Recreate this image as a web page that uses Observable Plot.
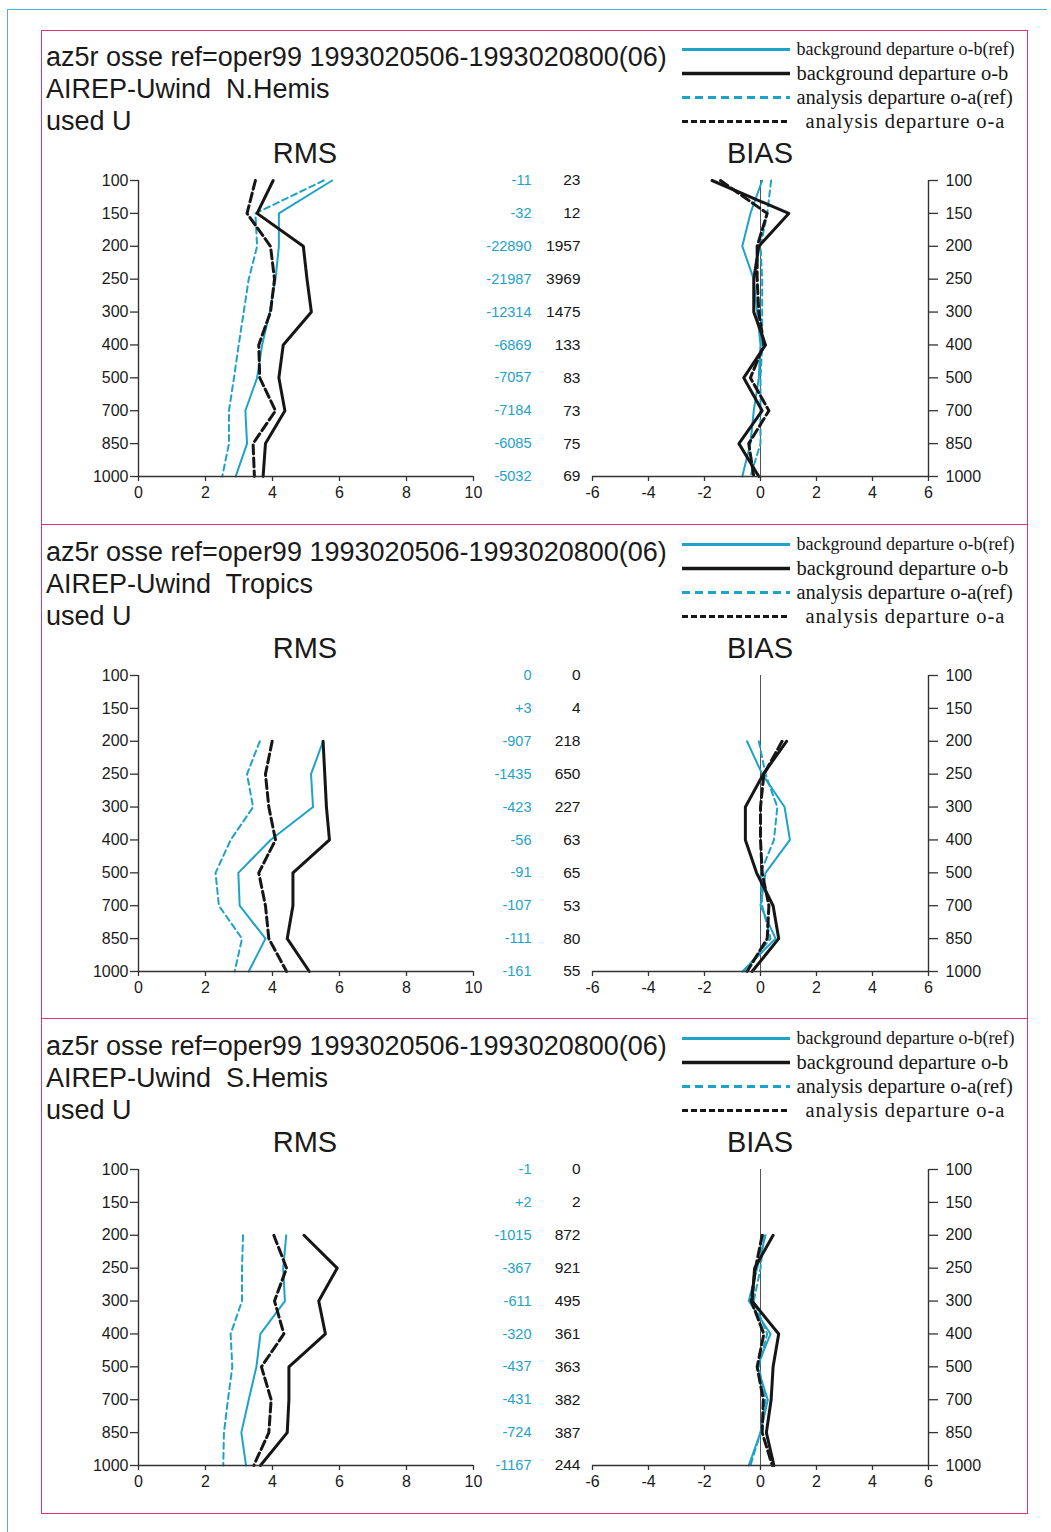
<!DOCTYPE html>
<html><head><meta charset="utf-8">
<script src="https://cdn.jsdelivr.net/npm/d3@7"></script>
<script src="https://cdn.jsdelivr.net/npm/@observablehq/plot@0.6"></script>
<style>
body{margin:0;background:#fff;}
#page{position:relative;width:1051px;height:1532px;overflow:hidden;font-family:"Liberation Sans",Arial,sans-serif;background:#fff;}
.line{position:absolute;}
.title{position:absolute;left:46px;font-size:27px;line-height:32px;color:#1a1a1a;white-space:pre;}
.head{position:absolute;font-size:29px;line-height:34px;color:#1a1a1a;transform:translateX(-50%);}
svg.plt{position:absolute;overflow:visible;}
</style></head><body><div id="page"></div>
<script>
// ---- data ----
const levels = [100, 150, 200, 250, 300, 400, 500, 700, 850, 1000];
const seriesNames = ["background departure o-b(ref)", "background departure o-b", "analysis departure o-a(ref)", "analysis departure o-a"];
const titleLine1 = "az5r osse ref=oper99 1993020506-1993020800(06)";
const regionTitles = ["AIREP-Uwind  N.Hemis", "AIREP-Uwind  Tropics", "AIREP-Uwind  S.Hemis"];
const titleLine3 = "used U";
const rmsTicks = [0, 2, 4, 6, 8, 10];
const biasTicks = [-6, -4, -2, 0, 2, 4, 6];

// N.Hemis
const nhRmsObRef = [5.78, 4.19, 4.19, 4.09, 3.92, 3.69, 3.54, 3.19, 3.24, 2.90];
const nhRmsOb    = [4.02, 3.54, 4.92, 5.03, 5.16, 4.32, 4.19, 4.37, 3.79, 3.72];
const nhRmsOaRef = [5.53, 3.49, 3.54, 3.29, 3.14, 2.99, 2.85, 2.70, 2.70, 2.50];
const nhRmsOa    = [3.49, 3.24, 3.94, 4.06, 3.94, 3.59, 3.62, 4.09, 3.42, 3.46];
const nhBiasObRef = [0.06, -0.36, -0.65, -0.24, -0.12, 0.0, -0.06, -0.24, -0.36, -0.65];
const nhBiasOb    = [-1.73, 1.01, -0.06, -0.24, -0.24, 0.18, -0.6, 0.06, -0.77, -0.06];
const nhBiasOaRef = [0.38, 0.24, 0.0, 0.06, 0.06, 0.06, 0.0, 0.0, 0.0, -0.36];
const nhBiasOa    = [-1.43, 0.24, -0.12, -0.12, -0.06, 0.12, -0.36, 0.3, -0.42, -0.24];
const nhCountRef = ["-11", "-32", "-22890", "-21987", "-12314", "-6869", "-7057", "-7184", "-6085", "-5032"];
const nhCount    = ["23", "12", "1957", "3969", "1475", "133", "83", "73", "75", "69"];

// Tropics
const trRmsObRef = [null, null, 5.51, 5.15, 5.21, 3.94, 2.98, 3.02, 3.79, 3.29];
const trRmsOb    = [null, null, 5.51, 5.56, 5.61, 5.70, 4.61, 4.61, 4.44, 5.10];
const trRmsOaRef = [null, null, 3.62, 3.24, 3.42, 2.75, 2.30, 2.40, 3.09, 2.87];
const trRmsOa    = [null, null, 3.99, 3.79, 3.89, 4.09, 3.59, 3.79, 3.89, 4.42];
const trBiasObRef = [null, null, -0.48, 0.06, 0.86, 1.05, 0.18, 0.0, 0.54, -0.65];
const trBiasOb    = [null, null, 0.93, 0.1, -0.54, -0.54, -0.14, 0.45, 0.65, -0.3];
const trBiasOaRef = [null, null, -0.06, 0.18, 0.6, 0.48, 0.0, 0.06, 0.36, -0.6];
const trBiasOa    = [null, null, 0.77, 0.12, 0.0, 0.0, 0.06, 0.3, 0.24, -0.48];
const trCountRef = ["0", "+3", "-907", "-1435", "-423", "-56", "-91", "-107", "-111", "-161"];
const trCount    = ["0", "4", "218", "650", "227", "63", "65", "53", "80", "55"];

// S.Hemis
const shRmsObRef = [null, null, 4.41, 4.32, 4.37, 3.64, 3.52, 3.29, 3.07, 3.21];
const shRmsOb    = [null, null, 4.94, 5.93, 5.38, 5.58, 4.49, 4.49, 4.44, 3.64];
const shRmsOaRef = [null, null, 3.12, 3.09, 3.09, 2.75, 2.80, 2.67, 2.55, 2.53];
const shRmsOa    = [null, null, 4.04, 4.42, 4.06, 4.34, 3.67, 3.96, 3.89, 3.44];
const shBiasObRef = [null, null, 0.18, -0.12, -0.42, 0.36, -0.12, 0.26, 0.0, -0.42];
const shBiasOb    = [null, null, 0.45, -0.21, -0.3, 0.65, 0.45, 0.38, 0.21, 0.48];
const shBiasOaRef = [null, null, 0.12, 0.0, -0.24, 0.24, -0.06, 0.18, 0.0, -0.36];
const shBiasOa    = [null, null, 0.06, -0.18, -0.33, 0.12, -0.12, 0.1, 0.06, 0.42];
const shCountRef = ["-1", "+2", "-1015", "-367", "-611", "-320", "-437", "-431", "-724", "-1167"];
const shCount    = ["0", "2", "872", "921", "495", "361", "363", "382", "387", "244"];

// ---- styles ----
const CYAN = "#1fa2c8";
const BLACK = "#161616";
const styles = [
  {color: CYAN, width: 2, dash: null, lw: 3, ldash: null},
  {color: BLACK, width: 3, dash: null, lw: 3.5, ldash: null},
  {color: CYAN, width: 2, dash: "6,4", lw: 3, ldash: "8,5"},
  {color: BLACK, width: 3, dash: "9,4", lw: 3, ldash: "6,3"}
];
const drawOrder = [0, 2, 1, 3];

const panels = [
  {off: 0, region: regionTitles[0], rms: [nhRmsObRef, nhRmsOb, nhRmsOaRef, nhRmsOa], bias: [nhBiasObRef, nhBiasOb, nhBiasOaRef, nhBiasOa], cRef: nhCountRef, c: nhCount},
  {off: 495, region: regionTitles[1], rms: [trRmsObRef, trRmsOb, trRmsOaRef, trRmsOa], bias: [trBiasObRef, trBiasOb, trBiasOaRef, trBiasOa], cRef: trCountRef, c: trCount},
  {off: 989, region: regionTitles[2], rms: [shRmsObRef, shRmsOb, shRmsOaRef, shRmsOa], bias: [shBiasObRef, shBiasOb, shBiasOaRef, shBiasOa], cRef: shCountRef, c: shCount}
];

const page = document.getElementById("page");
function div(cls, css, text) {
  const e = document.createElement("div");
  e.className = cls;
  Object.assign(e.style, css);
  if (text != null) e.textContent = text;
  page.appendChild(e);
  return e;
}
function place(svg, left, top) {
  svg.classList.add("plt");
  svg.style.left = left + "px";
  svg.style.top = top + "px";
  page.appendChild(svg);
}

// outer borders
div("line", {left: "7px", top: "9px", width: "1040px", height: "0", borderTop: "1.5px solid #4fb0e2"});
div("line", {left: "7px", top: "9px", width: "0", height: "1523px", borderLeft: "1.5px solid #4fb0e2"});
// red frame
div("line", {left: "41px", top: "30px", width: "987px", height: "1484px", border: "1.5px solid #e4336a", boxSizing: "border-box"});
div("line", {left: "41px", top: "524px", width: "987px", height: "0", borderTop: "1.5px solid #e4336a"});
div("line", {left: "41px", top: "1018px", width: "987px", height: "0", borderTop: "1.5px solid #e4336a"});

const FONT = '"Liberation Sans", Arial, sans-serif';
const plain = d => String(d);

function seriesData(vals) {
  return levels.map((lv, j) => ({level: lv, v: vals[j]})).filter(d => d.v != null);
}

panels.forEach(p => {
  const o = p.off;
  div("title", {top: (41 + o) + "px"}, titleLine1);
  div("title", {top: (73 + o) + "px"}, p.region);
  div("title", {top: (105 + o) + "px"}, titleLine3);
  div("head", {left: "305px", top: (136 + o) + "px"}, "RMS");
  div("head", {left: "760px", top: (136 + o) + "px"}, "BIAS");

  // legend
  const legendRows = seriesNames.map((n, i) => ({name: n, i}));
  const legendMarks = [];
  styles.forEach((s, i) => {
    legendMarks.push(Plot.ruleY([legendRows[i]], {y: "name", x1: 0, x2: 1, stroke: s.color, strokeWidth: s.lw, strokeDasharray: s.ldash}));
  });
  legendMarks.push(Plot.text(legendRows.filter(d => d.i === 0), {y: "name", x: 1, text: "name", dx: 6, textAnchor: "start", fontSize: 18, fill: BLACK}));
  legendMarks.push(Plot.text(legendRows.filter(d => d.i === 1 || d.i === 2), {y: "name", x: 1, text: "name", dx: 6, textAnchor: "start", fontSize: 20.5, fill: BLACK}));
  legendMarks.push(Plot.text(legendRows.filter(d => d.i === 3), {y: "name", x: 1, text: "name", dx: 15, textAnchor: "start", fontSize: 20.5, fill: BLACK, className: "legwide"}));
  const leg = Plot.plot({
    width: 350, height: 96, margin: 0,
    x: {domain: [0, 1], range: [0, 108], axis: null},
    y: {type: "point", domain: seriesNames, range: [10, 82], padding: 0, round: false, axis: null},
    style: {fontFamily: '"Liberation Serif", "Times New Roman", serif', background: "transparent", overflow: "visible"},
    marks: legendMarks
  });
  d3.select(leg).selectAll(".legwide text").style("letter-spacing", "0.9px");
  place(leg, 682, 39 + o);

  // RMS plot
  const rmsMarks = [];
  drawOrder.forEach(i => {
    const s = styles[i];
    rmsMarks.push(Plot.line(seriesData(p.rms[i]), {x: "v", y: "level", stroke: s.color, strokeWidth: s.width, strokeDasharray: s.dash}));
  });
  rmsMarks.push(Plot.ruleX([0], {stroke: "#333", strokeWidth: 1.4}));
  rmsMarks.push(Plot.ruleY([1000], {stroke: "#333", strokeWidth: 1.4}));
  rmsMarks.push(Plot.axisY({anchor: "left", tickSize: 8, tickPadding: 2, label: null, fontSize: 16, tickFormat: plain, stroke: "#333", strokeWidth: 1.3}));
  rmsMarks.push(Plot.axisX({anchor: "bottom", ticks: rmsTicks, tickSize: 5, tickPadding: 5, label: null, fontSize: 16, tickFormat: plain, stroke: "#333", strokeWidth: 1.3}));
  rmsMarks.push(Plot.text(levels, {y: d => d, text: (d, j) => p.cRef[j], frameAnchor: "right", dx: 58, textAnchor: "end", fill: CYAN, fontSize: 14.5}));
  rmsMarks.push(Plot.text(levels, {y: d => d, text: (d, j) => p.c[j], frameAnchor: "right", dx: 107, textAnchor: "end", fill: BLACK, fontSize: 15.5}));
  const rms = Plot.plot({
    width: 515, height: 336,
    marginLeft: 60, marginRight: 120, marginTop: 10, marginBottom: 30,
    x: {domain: [0, 10]},
    y: {type: "point", domain: levels, padding: 0, round: false},
    style: {fontFamily: FONT, background: "transparent", color: "#1a1a1a", overflow: "visible"},
    marks: rmsMarks
  });
  place(rms, 78, 170 + o);

  // BIAS plot
  const biasMarks = [];
  biasMarks.push(Plot.ruleX([0], {stroke: "#555", strokeWidth: 1}));
  drawOrder.forEach(i => {
    const s = styles[i];
    biasMarks.push(Plot.line(seriesData(p.bias[i]), {x: "v", y: "level", stroke: s.color, strokeWidth: s.width, strokeDasharray: s.dash}));
  });
  biasMarks.push(Plot.ruleX([6], {stroke: "#333", strokeWidth: 1.4}));
  biasMarks.push(Plot.ruleY([1000], {stroke: "#333", strokeWidth: 1.4}));
  biasMarks.push(Plot.axisY({anchor: "right", tickSize: 9, tickPadding: 8, label: null, fontSize: 16, tickFormat: plain, stroke: "#333", strokeWidth: 1.3}));
  biasMarks.push(Plot.axisX({anchor: "bottom", ticks: biasTicks, tickSize: 5, tickPadding: 5, label: null, fontSize: 16, tickFormat: plain, stroke: "#333", strokeWidth: 1.3}));
  const bias = Plot.plot({
    width: 426, height: 336,
    marginLeft: 20, marginRight: 70, marginTop: 10, marginBottom: 30,
    x: {domain: [-6, 6]},
    y: {type: "point", domain: levels, padding: 0, round: false},
    style: {fontFamily: FONT, background: "transparent", color: "#1a1a1a", overflow: "visible"},
    marks: biasMarks
  });
  place(bias, 572, 170 + o);
});
</script></body></html>
